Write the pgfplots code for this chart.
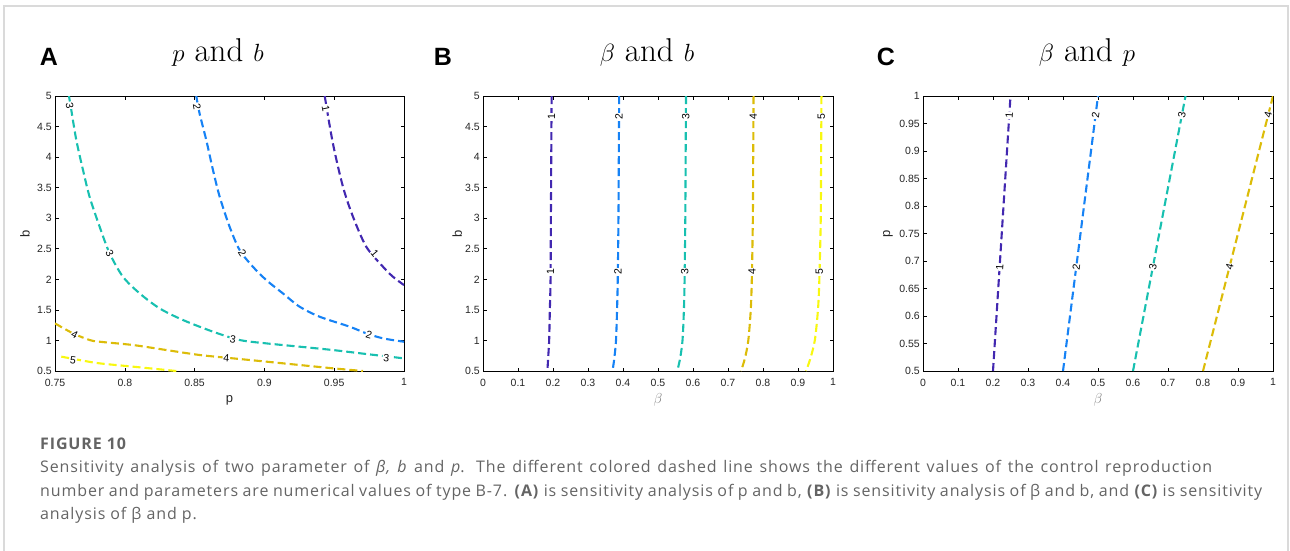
\documentclass[border=0pt]{standalone}
\usepackage{pgfplots}
\pgfplotsset{compat=1.18}
\usepackage{fontspec}
\newfontfamily\arial{Liberation Sans}
\newfontfamily\capfont[LetterSpace=5.5]{Open Sans}
\definecolor{c1}{RGB}{66,40,176}
\definecolor{c2}{RGB}{22,130,245}
\definecolor{c3}{RGB}{24,192,176}
\definecolor{c4}{RGB}{220,188,8}
\definecolor{c5}{RGB}{248,248,16}
\definecolor{bordergray}{RGB}{218,218,218}
\definecolor{tickgray}{RGB}{38,38,38}
\definecolor{capgray}{RGB}{100,100,100}
\pgfplotsset{
  myax/.style={scale only axis, width=349pt, height=275pt,
    tick align=inside, major tick length=3.5pt,
    axis line style={line width=0.8pt},
    every tick/.style={line width=0.6pt, black},
    tick label style={font=\arial\fontsize{10.5}{11}\selectfont, text=tickgray, inner sep=1pt},
    xticklabel style={yshift=-6.5pt},
    yticklabel style={xshift=-2pt},
    /pgf/number format/assume math mode=true,
    /pgf/number format/.cd, fixed, precision=2, /pgfplots/.cd,
    label style={font=\arial\fontsize{13}{14}\selectfont, text=tickgray},
    clip=true},
  cl/.style={line width=2.1pt, dash pattern=on 8pt off 4pt},
}
\tikzset{lab/.style={font=\arial\fontsize{10.5}{11}\selectfont, fill=white, inner sep=0.8pt, text=black}}
\begin{document}
\begin{tikzpicture}[x=1pt,y=1pt]
\useasboundingbox (0,0) rectangle (1290,-551);
\draw[color=bordergray,line width=1.5pt] (4,-551) -- (4,-6) -- (1288,-6) -- (1288,-551);
% panel letters and titles
\node[font=\arial\bfseries\fontsize{25}{26}\selectfont, anchor=center] at (49,-57) {A};
\node[font=\arial\bfseries\fontsize{25}{26}\selectfont, anchor=center] at (443,-57) {B};
\node[font=\arial\bfseries\fontsize{25}{26}\selectfont, anchor=center] at (886,-57) {C};
\node[font=\fontsize{33}{35}\selectfont, anchor=base] at (218,-62) {$p$ and $b$};
\node[font=\fontsize{33}{35}\selectfont, anchor=base] at (647,-62) {$\beta$ and $b$};
\node[font=\fontsize{33}{35}\selectfont, anchor=base] at (1087,-62) {$\beta$ and $p$};
% ---------------- Panel A
\begin{axis}[myax, at={(55pt,-371pt)}, anchor=south west,
  xmin=0.75, xmax=1, ymin=0.5, ymax=5,
  xtick={0.75,0.8,0.85,0.9,0.95,1}, ytick={0.5,1,...,5},
  xlabel={p}, ylabel={b},
  xlabel style={at={(axis description cs:0.5,-0.105)}, anchor=center},
  ylabel style={at={(axis description cs:-0.086,0.5)}, anchor=center}]
\addplot[cl, c1, smooth] coordinates {(0.9432,5) (0.9491,4.221) (0.9563,3.513) (0.9635,3.022) (0.9730,2.532) (0.9850,2.205) (0.9921,2.042) (1.0,1.906)};
\addplot[cl, c2, smooth] coordinates {(0.8512,5) (0.8536,4.711) (0.8584,4.275) (0.8632,3.785) (0.8680,3.349) (0.8751,2.859) (0.8823,2.478) (0.8918,2.205) (0.9014,1.987) (0.9133,1.769) (0.9253,1.551) (0.9396,1.388) (0.9611,1.225) (0.9730,1.116) (0.9850,1.034) (1.0,0.979)};
\addplot[cl, c3, smooth] coordinates {(0.7600,5) (0.7617,4.766) (0.7653,4.275) (0.7701,3.785) (0.7748,3.349) (0.7820,2.859) (0.7892,2.423) (0.7987,2.042) (0.8107,1.769) (0.8250,1.524) (0.8417,1.334) (0.8632,1.143) (0.8823,1.007) (0.9014,0.952) (0.9253,0.898) (0.9491,0.843) (0.9730,0.778) (1.0,0.707)};
\addplot[cl, c4, smooth] coordinates {(0.75,1.279) (0.7629,1.116) (0.7748,1.007) (0.7820,0.979) (0.8059,0.925) (0.8298,0.843) (0.8536,0.762) (0.8775,0.707) (0.9014,0.653) (0.9253,0.598) (0.9491,0.544) (0.9706,0.5)};
\addplot[cl, c5, smooth] coordinates {(0.7545,0.735) (0.7701,0.669) (0.7820,0.625) (0.8059,0.571) (0.8369,0.5)};
\node[lab, rotate=-78] at (axis cs:0.944,4.79) {1};
\node[lab, rotate=-50] at (axis cs:0.979,2.423) {1};
\node[lab, rotate=-80] at (axis cs:0.8517,4.831) {2};
\node[lab, rotate=-58] at (axis cs:0.8842,2.423) {2};
\node[lab, rotate=-17] at (axis cs:0.9749,1.088) {2};
\node[lab, rotate=-80] at (axis cs:0.7605,4.847) {3};
\node[lab, rotate=-62] at (axis cs:0.7892,2.423) {3};
\node[lab, rotate=-10] at (axis cs:0.8775,1.018) {3};
\node[lab, rotate=-5] at (axis cs:0.9873,0.718) {3};
\node[lab, rotate=-28] at (axis cs:0.7641,1.099) {4};
\node[lab, rotate=-5] at (axis cs:0.8727,0.707) {4};
\node[lab, rotate=-8] at (axis cs:0.7629,0.680) {5};
\end{axis}
% ---------------- Panel B
\begin{axis}[myax, width=350pt, at={(483pt,-371pt)}, anchor=south west,
  xmin=0, xmax=1, ymin=0.5, ymax=5,
  xtick={0,0.1,...,1}, ytick={0.5,1,...,5},
  xlabel={$\beta$}, ylabel={b},
  xlabel style={at={(axis description cs:0.5,-0.105)}, anchor=center, text=gray, font=\fontsize{15}{15}\selectfont},
  ylabel style={at={(axis description cs:-0.074,0.5)}, anchor=center}]
\addplot[cl, c1, smooth] coordinates {(0.196,5) (0.195,4) (0.194,3) (0.193,2) (0.191,1.5) (0.189,1) (0.186,0.7) (0.184,0.5)};
\addplot[cl, c2, smooth] coordinates {(0.389,5) (0.388,4) (0.387,3) (0.385,2) (0.383,1.5) (0.380,1) (0.375,0.7) (0.370,0.5)};
\addplot[cl, c3, smooth] coordinates {(0.580,5) (0.579,4) (0.578,3) (0.576,2) (0.574,1.5) (0.570,1) (0.563,0.7) (0.555,0.5)};
\addplot[cl, c4, smooth] coordinates {(0.773,5) (0.772,4) (0.771,3) (0.768,2) (0.765,1.5) (0.758,1) (0.748,0.7) (0.737,0.5)};
\addplot[cl, c5, smooth] coordinates {(0.967,5) (0.966,4) (0.965,3) (0.961,2) (0.957,1.5) (0.948,1) (0.935,0.7) (0.923,0.5)};
\node[lab, rotate=90] at (axis cs:0.1955,4.66) {1};
\node[lab, rotate=90] at (axis cs:0.1932,2.12) {1};
\node[lab, rotate=90] at (axis cs:0.3883,4.66) {2};
\node[lab, rotate=90] at (axis cs:0.3855,2.12) {2};
\node[lab, rotate=90] at (axis cs:0.5795,4.66) {3};
\node[lab, rotate=90] at (axis cs:0.5765,2.12) {3};
\node[lab, rotate=90] at (axis cs:0.7724,4.66) {4};
\node[lab, rotate=90] at (axis cs:0.7685,2.12) {4};
\node[lab, rotate=90] at (axis cs:0.9665,4.66) {5};
\node[lab, rotate=90] at (axis cs:0.9612,2.12) {5};
\end{axis}
% ---------------- Panel C
\begin{axis}[myax, width=350pt, at={(923pt,-371pt)}, anchor=south west,
  xmin=0, xmax=1, ymin=0.5, ymax=1,
  xtick={0,0.1,...,1}, ytick={0.5,0.55,...,1.01},
  xlabel={$\beta$}, ylabel={p},
  xlabel style={at={(axis description cs:0.5,-0.105)}, anchor=center, text=gray, font=\fontsize{15}{15}\selectfont},
  ylabel style={at={(axis description cs:-0.10,0.5)}, anchor=center}]
\addplot[cl, c1] coordinates {(0.200,0.5) (0.225,0.75) (0.250,1)};
\addplot[cl, c2] coordinates {(0.400,0.5) (0.450,0.75) (0.500,1)};
\addplot[cl, c3] coordinates {(0.600,0.5) (0.675,0.75) (0.750,1)};
\addplot[cl, c4] coordinates {(0.800,0.5) (0.900,0.75) (1.000,1)};
\node[lab, rotate=86] at (axis cs:0.2465,0.965) {1};
\node[lab, rotate=86] at (axis cs:0.2189,0.689) {1};
\node[lab, rotate=83] at (axis cs:0.4930,0.965) {2};
\node[lab, rotate=83] at (axis cs:0.4378,0.689) {2};
\node[lab, rotate=79] at (axis cs:0.7395,0.965) {3};
\node[lab, rotate=79] at (axis cs:0.6567,0.689) {3};
\node[lab, rotate=76] at (axis cs:0.9860,0.965) {4};
\node[lab, rotate=76] at (axis cs:0.8756,0.689) {4};
\end{axis}
% ---------------- caption
\node[font=\capfont\fontsize{16}{17}\selectfont\bfseries, text=capgray, anchor=base west, inner sep=0] at (40,-449) {FIGURE 10};
\node[font=\capfont\fontsize{16}{17}\selectfont, text=capgray, anchor=base west, inner sep=0] at (40,-472) {\makebox[1172pt][s]{Sensitivity analysis of two parameter of \textit{β, b} and \textit{p}. The different colored dashed line shows the different values of the control reproduction}};
\node[font=\capfont\fontsize{16}{17}\selectfont, text=capgray, anchor=base west, inner sep=0] at (40,-496) {\makebox[1222pt][s]{number and parameters are numerical values of type B-7. \textbf{(A)} is sensitivity analysis of p and b, \textbf{(B)} is sensitivity analysis of β and b, and \textbf{(C)} is sensitivity}};
\node[font=\capfont\fontsize{16}{17}\selectfont, text=capgray, anchor=base west, inner sep=0] at (40,-519.5) {analysis of β and p.};
\end{tikzpicture}
\end{document}
